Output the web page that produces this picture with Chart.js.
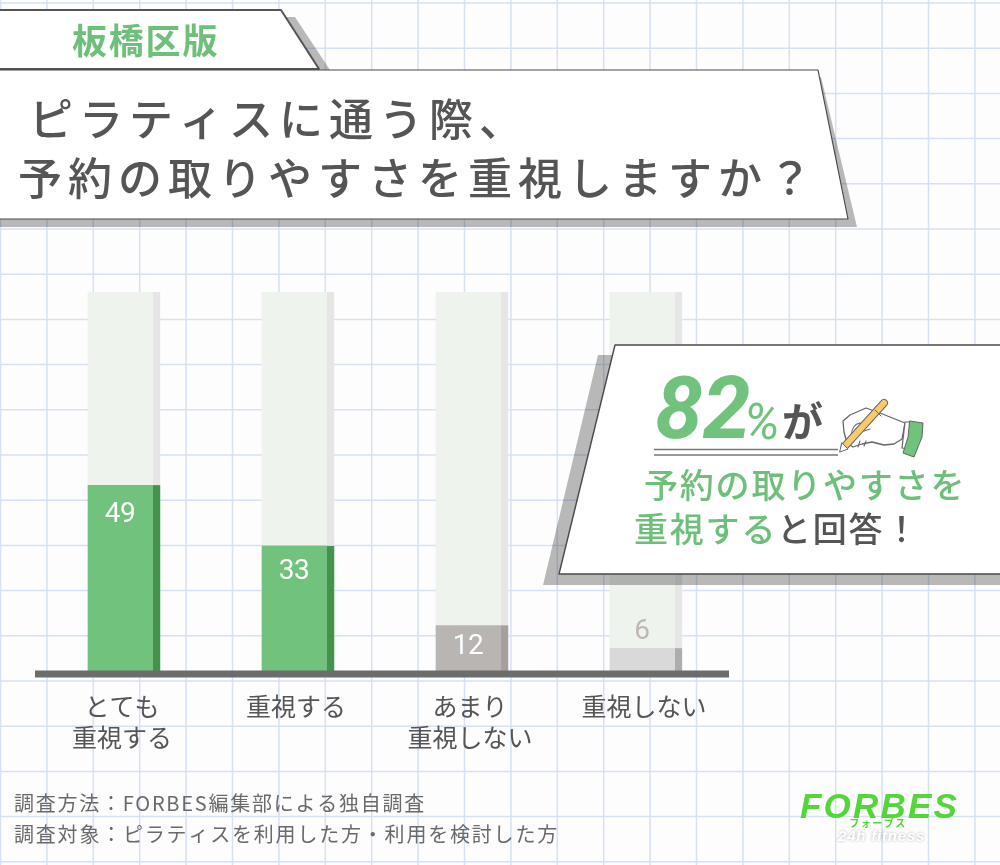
<!DOCTYPE html>
<html lang="ja">
<head>
<meta charset="utf-8">
<title>ピラティスに通う際、予約の取りやすさを重視しますか？</title>
<script src="https://cdn.jsdelivr.net/npm/chart.js@4"></script>
<style>
  html, body { margin: 0; padding: 0; background: #fdfdfd; }
  #wrap { position: relative; width: 1000px; height: 865px; overflow: hidden; }
</style>
</head>
<body>
<div id="wrap"><canvas id="pilates" width="1000" height="865"></canvas></div>
<script>
// data
const categories = [['とても', '重視する'], '重視する', ['あまり', '重視しない'], '重視しない'];
const answers = [49, 33, 12, 6];
const remainder = [51, 67, 88, 94];

// text
const tabText = '板橋区版';
const titleLines = ['ピラティスに通う際、', '予約の取りやすさを重視しますか？'];
const notes = ['調査方法：FORBES編集部による独自調査', '調査対象：ピラティスを利用した方・利用を検討した方'];

// colours per bar
const barColors = ['#70c27c', '#70c27c', '#b9b5b3', '#d9d9d9'];
const sideColors = ['#47914f', '#47914f', '#a3a09e', '#adadad'];
const labelColors = ['#ffffff', '#ffffff', '#ffffff', '#bdb8b6'];
const labelOffsets = [27, 23, 18, -19];

const jp = '"Noto Sans CJK JP", "Noto Sans", sans-serif';
const green = '#6dbf7a';
const ink = '#555555';
const shade = 'rgba(0,0,0,0.27)';

function poly(c, pts, fill, stroke, lw) {
  c.beginPath();
  pts.forEach((p, i) => i ? c.lineTo(p[0], p[1]) : c.moveTo(p[0], p[1]));
  c.closePath();
  if (fill) { c.fillStyle = fill; c.fill(); }
  if (stroke) { c.strokeStyle = stroke; c.lineWidth = lw; c.lineJoin = 'round'; c.stroke(); }
}

function text(c, str, x, y, font, color, spacing, align) {
  c.font = font;
  c.fillStyle = color;
  c.letterSpacing = (spacing || 0) + 'px';
  c.textAlign = align || 'left';
  c.textBaseline = 'alphabetic';
  c.fillText(str, x, y);
  c.letterSpacing = '0px';
}

// graph paper + top banners
function drawBackground(c) {
  c.fillStyle = '#fdfdfd';
  c.fillRect(0, 0, 1000, 865);
  c.strokeStyle = '#d6e1f3';
  c.lineWidth = 1.5;
  c.beginPath();
  for (let x = 0.5; x < 1000; x += 46.4) { c.moveTo(x, 0); c.lineTo(x, 865); }
  for (let y = 3; y < 865; y += 45.2) { c.moveTo(0, y); c.lineTo(1000, y); }
  c.stroke();

  poly(c, [[0, 17], [295, 17], [330, 70], [0, 70]], shade);
  poly(c, [[-5, 10], [281, 10], [319, 69], [-5, 69]], '#ffffff', ink, 2);
  text(c, tabText, 72, 54, '700 35px ' + jp, green, 1.8);

  poly(c, [[0, 77], [821, 77], [857, 227], [0, 227]], shade);
  poly(c, [[-5, 70], [818, 70], [848, 219], [-5, 219]], '#ffffff', '#4a4a4a', 1.2);
  text(c, titleLines[0], 29, 136, '500 44px ' + jp, ink, 6);
  text(c, titleLines[1], 18, 195, '500 44px ' + jp, ink, 6);
}

// side strip on each bar, axis line and value labels
function drawBarDetails(chart) {
  const c = chart.ctx;
  const sx = chart.scales.x;
  [1, 0].forEach(d => {
    chart.getDatasetMeta(d).data.forEach((el, i) => {
      const right = el.x + el.width / 2;
      c.fillStyle = d === 0 ? sideColors[i] : '#e6e6e6';
      c.fillRect(right - 7, el.y, 7, el.base - el.y);
    });
  });
  c.fillStyle = '#6c6c6c';
  c.fillRect(sx.left - 2, sx.top - 0.5, sx.right - sx.left - 2, 7);
  chart.getDatasetMeta(0).data.forEach((el, i) => {
    text(c, String(answers[i]), el.x - 4, el.y + labelOffsets[i] + 10, '400 28px Roboto, sans-serif', labelColors[i], -0.4, 'center');
  });
}

function drawHand(c) {
  c.lineCap = 'round';
  // back of the hand and wrist
  poly(c, [[866, 408], [850, 415], [843, 421], [844, 432], [847, 443], [853, 447], [862, 444], [872, 442], [884, 445], [894, 444], [902, 439], [905, 423], [880, 413]], '#ffffff', '#666666', 1.3);
  // fingers
  c.strokeStyle = '#666666';
  c.lineWidth = 1.1;
  c.beginPath();
  c.moveTo(851, 436); c.quadraticCurveTo(852, 424, 860, 423); c.lineTo(866, 426);
  c.moveTo(864, 431); c.lineTo(870, 429);
  c.moveTo(858, 447); c.lineTo(860, 441);
  c.moveTo(864, 446); c.lineTo(866, 441);
  c.stroke();
  // cuff
  poly(c, [[905, 422], [910, 422], [908, 449], [902, 448]], '#ffffff', '#666666', 1.2);
  poly(c, [[910, 421], [923, 423], [922, 437], [914, 457], [903, 453], [908, 437]], '#70c27c', '#666666', 1);
  // pencil
  c.beginPath();
  c.moveTo(845, 446);
  c.lineTo(884, 403);
  c.strokeStyle = '#666666';
  c.lineWidth = 8;
  c.stroke();
  c.strokeStyle = '#f8ca6c';
  c.lineWidth = 6;
  c.stroke();
  poly(c, [[842, 443], [848, 449], [840, 452]], '#ffffff', '#666666', 1);
  c.strokeStyle = '#666666';
  c.lineWidth = 1;
  c.beginPath();
  c.moveTo(875, 410); c.lineTo(881, 416);
  c.stroke();
  c.lineCap = 'butt';
}

// call-out panel, footnotes and logo sit on top of the chart
function drawOverlay(c) {
  poly(c, [[598, 355], [1000, 355], [1000, 585], [543, 585]], shade);
  poly(c, [[615, 345], [1005, 345], [1005, 574], [559, 574]], '#ffffff', '#4a4a4a', 1.4);

  text(c, '82', 655, 438, 'italic 700 86px Roboto, sans-serif', '#70c27c', 0);
  text(c, '%', 744, 439, 'italic 400 50px Roboto, sans-serif', '#70c27c', 0);
  text(c, 'が', 782, 437, '700 41px ' + jp, '#555555', 0);

  c.strokeStyle = '#777777';
  c.lineWidth = 1.4;
  c.beginPath();
  c.moveTo(654, 449.5); c.lineTo(838, 449.5);
  c.moveTo(654, 455); c.lineTo(838, 455);
  c.stroke();
  drawHand(c);

  text(c, '予約の取りやすさを', 644, 498, '500 34px ' + jp, green, 1.8);
  text(c, '重視する', 634, 542, '500 34px ' + jp, green, 1.8);
  text(c, 'と回答！', 777, 542, '500 34px ' + jp, '#555555', 1.8);

  text(c, notes[0], 14, 811, '20px ' + jp, '#6a6a6a', 1.75);
  text(c, notes[1], 14, 842, '20px ' + jp, '#6a6a6a', 1.8);

  text(c, 'FORBES', 800, 818, 'italic 700 35px "Liberation Sans", sans-serif', '#52d63a', 2.2);
  text(c, 'フォーブス', 878, 827, '700 10px ' + jp, '#52d63a', 1.5, 'center');
  c.shadowColor = 'rgba(0,0,0,0.3)';
  c.shadowBlur = 3;
  text(c, '24h fitness', 838, 841, 'italic 700 15px "Liberation Sans", sans-serif', '#ffffff', 0.8);
  c.shadowBlur = 0;
  c.shadowColor = 'transparent';
}

const decor = {
  id: 'decor',
  beforeDraw(chart) { drawBackground(chart.ctx); },
  afterDatasetsDraw(chart) { drawBarDetails(chart); },
  afterDraw(chart) { drawOverlay(chart.ctx); }
};

new Chart(document.getElementById('pilates').getContext('2d'), {
  type: 'bar',
  plugins: [decor],
  data: {
    labels: categories,
    datasets: [
      { label: '回答', data: answers, backgroundColor: barColors, stack: 's', barThickness: 72, borderWidth: 0 },
      { label: '残り', data: remainder, backgroundColor: '#eff3ee', stack: 's', barThickness: 72, borderWidth: 0 }
    ]
  },
  options: {
    responsive: false,
    animation: false,
    layout: { padding: { top: 292, left: 37, right: 267, bottom: 0 } },
    plugins: { legend: { display: false }, title: { display: false }, tooltip: { enabled: false } },
    scales: {
      x: {
        stacked: true,
        grid: { display: false },
        border: { display: false },
        afterFit(scale) { scale.height = 865 - 671; },
        ticks: { padding: 12, labelOffset: -2, color: ink, maxRotation: 0, font: { family: jp, size: 25, lineHeight: 1.24 } }
      },
      y: { stacked: true, display: false, min: 0, max: 100 }
    }
  }
});
</script>
</body>
</html>
